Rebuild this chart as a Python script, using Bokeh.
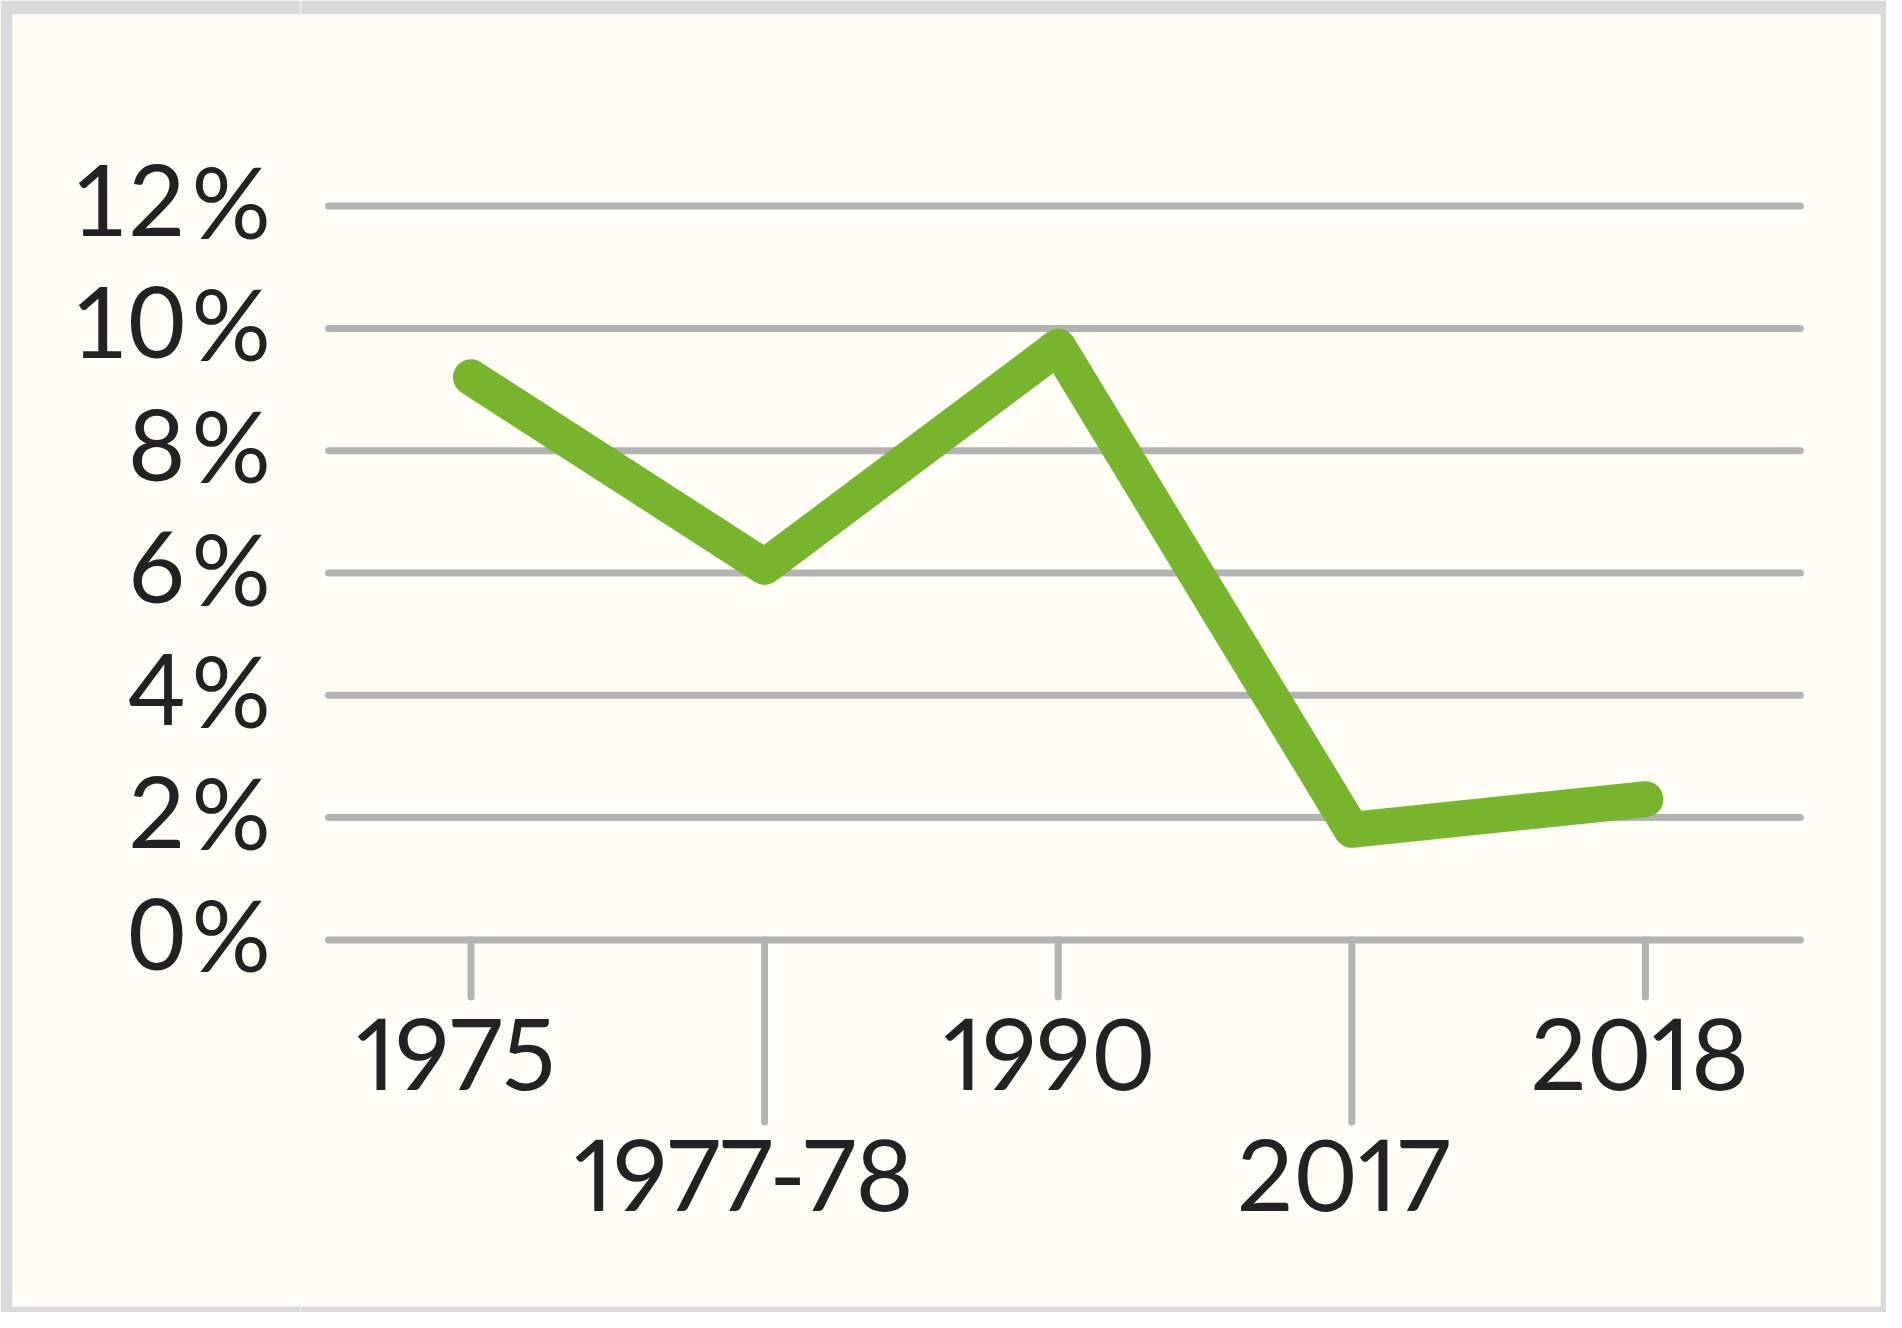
from bokeh.plotting import figure
from bokeh.layouts import row
from bokeh.models import Range1d, ColumnDataSource
from bokeh.core.properties import value
from bokeh.embed import file_html
from bokeh.resources import INLINE

# ---- data ----
periods = ["1975", "1977-78", "1990", "2017", "2018"]
rates = [9.2, 6.1, 9.7, 1.8, 2.3]          # percent
label_row = [0, 1, 0, 1, 0]                # staggered label rows
y_ticks = [0, 2, 4, 6, 8, 10, 12]
y_tick_numbers = [str(v) for v in y_ticks]
y_unit = "%"

# ---- layout constants (pixels) ----
W, H = 1886, 1312
WL = 300                                  # width of the y-label panel
B_L, B_T, B_R, B_B = 12, 14, 6, 6
FRAME_H = H - B_T - B_B
WM = W - WL
FRAME_WM = WM - B_R
X_TICK0, X_STEP = 470.5, 293.6            # page x of first tick, spacing
Y_ZERO, Y_STEP = 939.4, 61.15             # page y of value 0, px per unit

y_end = (Y_ZERO - B_T) / Y_STEP
y_start = -(FRAME_H - (Y_ZERO - B_T)) / Y_STEP
yr = Range1d(y_start, y_end)

def px_y(p):
    return p / Y_STEP

def px_x(p):
    return p / X_STEP

GREEN = "#77B62C"
GRID = "#B3B3B3"
TEXT = "#222222"
BG = "#FFFDF5"
BORDER = "#D9D9D9"
FONT = "Lato"
FSIZE = "99px"

def base_fig(width, xr, bl, br):
    f = figure(width=width, height=H, output_backend="svg", toolbar_location=None,
               x_axis_type=None, y_axis_type=None, x_range=xr, y_range=yr,
               min_border_left=bl, min_border_right=br,
               min_border_top=B_T, min_border_bottom=B_B)
    f.background_fill_color = BG
    f.border_fill_color = BORDER
    f.outline_line_color = None
    f.grid.visible = False
    return f

# ---- y-label panel (x in page pixels) ----
fl = base_fig(WL, Range1d(B_L, WL), B_L, 0)
fl.text(x=[185] * len(y_ticks), y=[v + px_y(6) for v in y_ticks],
        text=y_tick_numbers, text_font=value(FONT), text_font_size=FSIZE,
        text_color=TEXT, text_align="right", text_baseline="alphabetic")
fl.text(x=[191] * len(y_ticks), y=[v + px_y(6) for v in y_ticks],
        text=[y_unit] * len(y_ticks), text_font=value(FONT), text_font_size=FSIZE,
        text_color=TEXT, text_align="left", text_baseline="alphabetic")

# ---- main panel (x in category index) ----
x_start = (WL - X_TICK0) / X_STEP
x_end = (WL + FRAME_WM - X_TICK0) / X_STEP
p = base_fig(WM, Range1d(x_start, x_end), 0, B_R)
p.styles = {"font-variant-numeric": "proportional-nums",
            "font-feature-settings": "'pnum' 1"}

xs = list(range(len(periods)))

# horizontal grid lines
g_left = -px_x(X_TICK0 - 328)
g_right = len(periods) - 1 + px_x(1800 - 1645)
p.segment(x0=[g_left] * len(y_ticks), x1=[g_right] * len(y_ticks),
          y0=y_ticks, y1=y_ticks, line_color=GRID, line_width=7, line_cap="round")

# x ticks (staggered lengths)
tick_end = [-(px_y(57) + r * px_y(125)) for r in label_row]
p.segment(x0=xs, x1=xs, y0=[0] * len(xs), y1=tick_end,
          line_color=GRID, line_width=7, line_cap="round")

# x labels
lab_y = [-(px_y(113.6) + r * px_y(121)) for r in label_row]
p.text(x=xs, y=lab_y, text=periods, text_font=value(FONT), text_font_size=FSIZE,
       text_color=TEXT, text_align="center", text_baseline="alphabetic")

# data line
src = ColumnDataSource(dict(x=xs, y=rates))
p.line("x", "y", source=src, line_color=GREEN, line_width=36,
       line_cap="round", line_join="round")

layout = row(fl, p, spacing=0, styles={"background-color": BG})
open("out.html", "w").write(file_html(layout, INLINE))
